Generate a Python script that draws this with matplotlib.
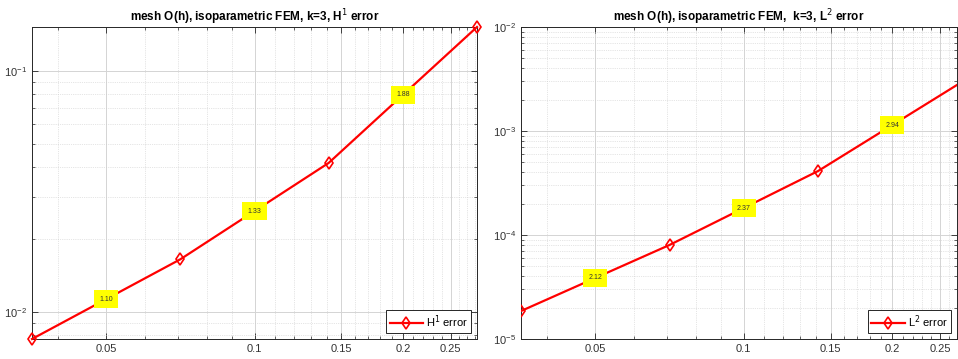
import numpy as np
import matplotlib
matplotlib.use("Agg")
import matplotlib.pyplot as plt
from matplotlib.ticker import FixedLocator, NullFormatter, LogLocator

plt.rcParams['font.family'] = ['Liberation Sans', 'DejaVu Sans']

# Data
h = [0.035355, 0.070711, 0.141421, 0.282843]
err_h1 = [0.00770, 0.01651, 0.04152, 0.1525]
err_l2 = [1.858e-5, 8.02e-5, 4.12e-4, 3.16e-3]
rates_h1 = ["1.10", "1.33", "1.88"]
rates_l2 = ["2.12", "2.37", "2.94"]
xticks = [0.05, 0.1, 0.15, 0.2, 0.25]
xtick_labels = ["0.05", "0.1", "0.15", "0.2", "0.25"]

fig = plt.figure(figsize=(9.58, 3.59), dpi=100)
ax1 = fig.add_axes([32/958, 1-339/359, 445/958, 312/359])
ax2 = fig.add_axes([521/958, 1-339/359, 436/958, 312/359])

edge = (0.15, 0.15, 0.15)


def setup(ax, xlim, ylim, yticks, title):
    ax.set_xscale('log')
    ax.set_yscale('log')
    ax.set_xlim(*xlim)
    ax.set_ylim(*ylim)
    ax.xaxis.set_major_locator(FixedLocator(xticks))
    ax.set_xticklabels(xtick_labels)
    minor = [v for v in np.round(np.arange(0.04, 0.29, 0.01), 2) if v not in xticks]
    ax.xaxis.set_minor_locator(FixedLocator(minor))
    ax.xaxis.set_minor_formatter(NullFormatter())
    ax.yaxis.set_major_locator(FixedLocator(yticks))
    ax.yaxis.set_minor_locator(LogLocator(base=10, subs=np.arange(2, 10)))
    ax.yaxis.set_minor_formatter(NullFormatter())
    ax.tick_params(which='both', direction='in', top=True, right=True,
                   labelsize=8, colors=edge, labelcolor=(0.2, 0.2, 0.2))
    ax.tick_params(which='major', length=4, width=0.6)
    ax.tick_params(which='minor', length=2, width=0.5)
    ax.grid(True, which='major', color=(0.83, 0.83, 0.83), linewidth=0.7)
    ax.grid(True, which='minor', color=(0.8, 0.8, 0.8), linewidth=0.5, linestyle=':')
    ax.set_axisbelow(True)
    for s in ax.spines.values():
        s.set_color(edge)
        s.set_linewidth(0.7)
    ax.set_title(title, fontsize=8.5, fontweight='bold', pad=3)


def draw(ax, err, rates, label):
    ax.plot(h, err, color='red', linewidth=1.6, marker='d', markersize=6,
            markerfacecolor='none', markeredgecolor='red', markeredgewidth=1.2,
            label=label, clip_on=False, zorder=3)
    for i, r in enumerate(rates):
        xm = np.sqrt(h[i] * h[i+1])
        ym = np.sqrt(err[i] * err[i+1])
        ax.text(xm, ym, r, fontsize=5, ha='center', va='center', color=(0.2, 0.2, 0.2),
                bbox=dict(boxstyle='square,pad=0.75', facecolor='yellow', edgecolor='none'),
                zorder=4, clip_on=True)
    leg = ax.legend(loc='lower right', fontsize=8, fancybox=False, edgecolor=edge,
                    framealpha=1, borderpad=0.3, handlelength=3.0, handletextpad=0.3,
                    borderaxespad=0.5)
    leg.get_frame().set_linewidth(0.7)


setup(ax1, (h[0], h[-1]), (err_h1[0], err_h1[-1]), [1e-2, 1e-1],
      "mesh O(h), isoparametric FEM, k=3, H$^1$ error")
draw(ax1, err_h1, rates_h1, "H$^1$ error")

setup(ax2, (h[0], 0.2705), (1e-5, 1e-2), [1e-5, 1e-4, 1e-3, 1e-2],
      "mesh O(h), isoparametric FEM,  k=3, L$^2$ error")
draw(ax2, err_l2, rates_l2, "L$^2$ error")
for line in ax2.lines:
    line.set_clip_on(True)

fig.savefig("out.png", dpi=100)
